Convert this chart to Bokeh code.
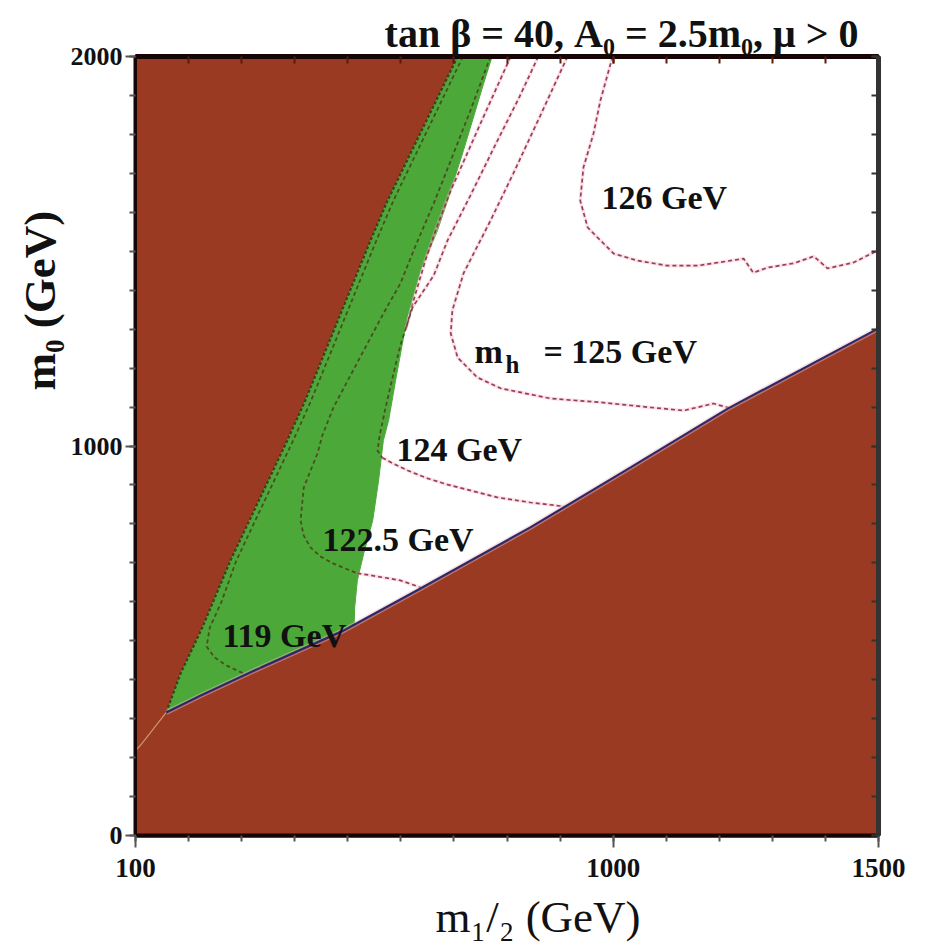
from bokeh.plotting import figure
from bokeh.models import Range1d, FixedTicker, LinearAxis, Label, Title
from bokeh.embed import file_html
from bokeh.resources import INLINE

# ---------------- data (GeV) ----------------
x_ticks = [100, 1000, 1500]
x_minor = list(range(100, 1501, 100))
y_ticks = [0, 1000, 2000]
y_minor = list(range(0, 2001, 100))

# boundary of the upper-left excluded (brown) region
upper_m12 = [100, 109, 158, 185, 226, 279, 386, 420, 543, 575, 707]
upper_m0 = [218, 231, 316, 416, 534, 706, 1014, 1117, 1528, 1630, 2000]
# boundary of the lower-right excluded (brown) region
lower_m12 = [100, 158, 222, 336, 492, 512, 637, 844, 1033, 1216, 1500]
lower_m0 = [218, 316, 359, 431, 526, 541, 634, 791, 945, 1096, 1302]
# right edge of the green strip
green_right_m12 = [772, 756, 718, 688, 669, 637, 612, 590, 577, 567, 558, 547, 530, 518, 513, 512]
green_right_m0 = [2000, 1931, 1759, 1630, 1553, 1451, 1330, 1168, 1066, 1014, 911, 809, 724, 655, 585, 541]

# Higgs mass contours
c119_m12 = [717, 586, 554, 431, 397, 290, 262, 240, 234, 249, 272, 307]
c119_m0 = [2000, 1630, 1528, 1117, 1014, 706, 600, 534, 485, 457, 436, 414]
c1225_m12 = [769, 731, 694, 662, 628, 599, 567, 537, 505, 473, 452, 443, 426, 417, 411, 417, 430, 449, 473, 518, 543, 599, 637]
c1225_m0 = [2000, 1861, 1733, 1623, 1515, 1417, 1340, 1263, 1181, 1099, 1027, 981, 924, 893, 809, 770, 739, 716, 698, 673, 668, 655, 637]
c123_m12 = [807, 750, 694, 669, 646, 624, 609]
c123_m0 = [2000, 1828, 1656, 1566, 1476, 1374, 1297]
c124_m12 = [859, 822, 782, 731, 688, 662, 622, 599, 583, 570, 560, 556, 565, 581, 613, 650, 688, 731, 782, 844, 907]
c124_m0 = [2000, 1892, 1784, 1643, 1528, 1438, 1356, 1258, 1168, 1091, 1027, 988, 970, 958, 937, 917, 901, 886, 868, 855, 845]
c125_m12 = [914, 863, 812, 769, 718, 697, 694, 707, 744, 788, 882, 976, 1071, 1133, 1189, 1218]
c125_m0 = [2000, 1849, 1700, 1579, 1443, 1348, 1289, 1227, 1176, 1148, 1122, 1112, 1099, 1091, 1109, 1098]
c126_m12 = [999, 976, 963, 944, 938, 952, 976, 1001, 1046, 1102, 1159, 1246, 1264, 1291, 1340, 1378, 1404, 1453, 1491, 1500]
c126_m0 = [2000, 1887, 1802, 1715, 1630, 1561, 1528, 1494, 1476, 1463, 1463, 1481, 1445, 1458, 1469, 1487, 1456, 1471, 1497, 1502]

# ---------------- styles ----------------
BROWN = "#9B3A23"
GREEN = "#4DA83A"
CONTOUR = "#8E2C48"
CONTOUR_ON_GREEN = "#4A3F1C"
HALO = "#F2B6C4"
NAVY = "#2C2A66"
SERIF = "Liberation Serif"

W, H = 925, 952
FL, FR, FT, FB = 135, 878, 56, 835  # frame in pixels


def dx(px):
    return 100 + (px - FL) * 1400.0 / (FR - FL)


def dy(py):
    return (FB - py) * 2000.0 / (FB - FT)


p = figure(width=W, height=H, x_range=Range1d(100, 1500), y_range=Range1d(0, 2000),
           output_backend="svg", toolbar_location=None,
           min_border_left=FL, min_border_right=W - FR, min_border_top=FT, min_border_bottom=H - FB)
p.xgrid.visible = False
p.ygrid.visible = False
p.background_fill_color = "white"
p.border_fill_color = "white"
p.outline_line_color = "#150505"
p.outline_line_width = 4

# regions
p.patch(upper_m12 + [100], upper_m0 + [2000], fill_color=BROWN, line_color=BROWN, line_width=1)
p.patch(lower_m12 + [1500, 100], lower_m0 + [0, 0], fill_color=BROWN, line_color=BROWN, line_width=1)
gx = upper_m12[2:] + green_right_m12 + lower_m12[1:6][::-1]
gy = upper_m0[2:] + green_right_m0 + lower_m0[1:6][::-1]
p.patch(gx, gy, fill_color=GREEN, line_color=GREEN, line_width=1)

# thin line where the two excluded regions meet
p.line(upper_m12[:3], upper_m0[:3], line_color="#D8B070", line_width=1.2, line_alpha=0.8)

# boundary of upper-left region (dark dashed)
p.line(upper_m12[2:], upper_m0[2:], line_color="#3A2A14", line_width=2.2, line_dash="3 2", line_alpha=0.8)


def contour(xs, ys, on_green=False):
    if on_green:
        p.line(xs, ys, line_color=CONTOUR_ON_GREEN, line_width=1.8, line_dash="4 3", line_alpha=0.85)
    else:
        p.line(xs, ys, line_color=HALO, line_width=3.5, line_alpha=0.4)
        p.line(xs, ys, line_color=CONTOUR, line_width=1.7, line_dash="4 3", line_alpha=0.9)


contour(c119_m12, c119_m0, True)
contour(c1225_m12[:20], c1225_m0[:20], True)
contour(c1225_m12[19:], c1225_m0[19:])
contour(c123_m12, c123_m0)
contour(c124_m12[:7], c124_m0[:7])
contour(c124_m12[6:13], c124_m0[6:13], True)
contour(c124_m12[12:], c124_m0[12:])
contour(c125_m12, c125_m0)
contour(c126_m12, c126_m0)

# navy line along lower-right boundary (with a faint pink rim)
p.line(lower_m12[1:], lower_m0[1:], line_color=HALO, line_width=5, line_alpha=0.45)
p.line(lower_m12[1:], lower_m0[1:], line_color=NAVY, line_width=2.2)

# axes
for ax in p.xaxis:
    ax.ticker = FixedTicker(ticks=x_ticks, minor_ticks=x_minor)
    ax.major_tick_out = 12
    ax.major_tick_in = 0
    ax.minor_tick_out = 6
    ax.minor_tick_in = 0
    ax.axis_line_width = 4
    ax.axis_line_color = "#150505"
    ax.major_tick_line_color = "#555555"
    ax.minor_tick_line_color = "#555555"
    ax.major_tick_line_width = 2
    ax.minor_tick_line_width = 2
    ax.major_label_text_font = SERIF
    ax.major_label_text_font_style = "bold"
    ax.major_label_text_font_size = "27px"
    ax.major_label_text_color = "#111111"
    ax.major_label_standoff = 11
for ax in p.yaxis:
    ax.ticker = FixedTicker(ticks=y_ticks, minor_ticks=y_minor)
    ax.major_tick_out = 10
    ax.major_tick_in = 0
    ax.minor_tick_out = 6
    ax.minor_tick_in = 0
    ax.axis_line_width = 3
    ax.axis_line_color = "#150505"
    ax.major_tick_line_color = "#555555"
    ax.minor_tick_line_color = "#555555"
    ax.major_tick_line_width = 2
    ax.minor_tick_line_width = 2
    ax.major_label_text_font = SERIF
    ax.major_label_text_font_style = "bold"
    ax.major_label_text_font_size = "26px"
    ax.major_label_text_color = "#111111"
    ax.major_label_standoff = 3

top_ax = LinearAxis(ticker=FixedTicker(ticks=x_ticks, minor_ticks=x_minor),
                    major_label_overrides={t: "" for t in x_ticks},
                    major_label_text_font_size="0px", major_label_standoff=0,
                    major_tick_in=7, major_tick_out=0, minor_tick_in=7, minor_tick_out=0,
                    axis_line_width=5, axis_line_color="#150505",
                    major_tick_line_color="#5a1a10", minor_tick_line_color="#5a1a10",
                    major_tick_line_width=2, minor_tick_line_width=2)
right_ax = LinearAxis(ticker=FixedTicker(ticks=y_ticks, minor_ticks=y_minor),
                      major_label_overrides={t: "" for t in y_ticks},
                      major_label_text_font_size="0px", major_label_standoff=0,
                      major_tick_in=7, major_tick_out=0, minor_tick_in=7, minor_tick_out=0,
                      axis_line_width=5, axis_line_color="#333333",
                      major_tick_line_color="#333333", minor_tick_line_color="#333333",
                      major_tick_line_width=2, minor_tick_line_width=2)
p.add_layout(top_ax, "above")
p.add_layout(right_ax, "right")

# title and axis titles (outside the frame)
p.add_layout(Title(text="tan \u03b2 = 40, A\u2080 = 2.5m\u2080,  \u03bc > 0", align="right", offset=10,
                   text_font=SERIF, text_font_size="40px", text_font_style="bold",
                   text_color="#111111", standoff=2), "above")
p.add_layout(Title(text="m\u2081/\u2082 (GeV)", align="left", offset=300,
                   text_font=SERIF, text_font_size="45px", text_font_style="normal",
                   text_color="#111111", standoff=20), "below")
p.add_layout(Title(text="m\u2080 (GeV)", align="left", offset=445,
                   text_font=SERIF, text_font_size="45px", text_font_style="bold",
                   text_color="#111111", standoff=6), "left")


def lab(text, px, py, size, align="left", baseline="alphabetic", style="bold"):
    p.add_layout(Label(x=dx(px), y=dy(py), text=text, text_font=SERIF, text_font_size=size,
                       text_font_style=style, text_color="#111111", text_align=align,
                       text_baseline=baseline))


# contour labels
lab("126 GeV", 601, 197, "34px")
lab("m", 474, 351, "34px")
lab("h", 505, 364, "25px")
lab("= 125 GeV", 543, 351, "34px")
lab("124 GeV", 396, 449, "34px")
lab("122.5 GeV", 322, 539, "34px")
lab("119 GeV", 222, 635, "34px")

open("out.html", "w").write(file_html(p, INLINE))
